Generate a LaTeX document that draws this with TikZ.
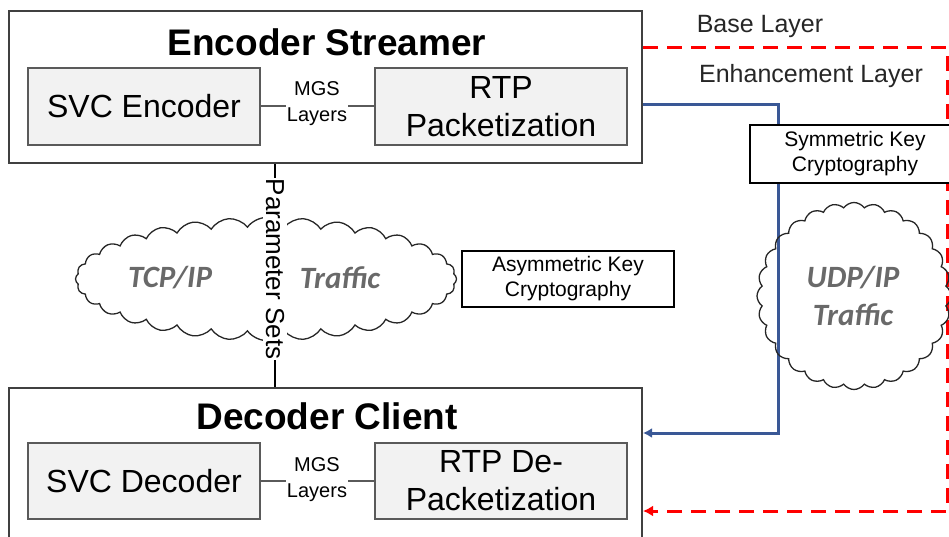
\documentclass[tikz,border=0pt]{standalone}
\usepackage{fontspec}
\setmainfont{Liberation Sans}
\newfontfamily\cloudfont{Carlito}
\usetikzlibrary{shapes.symbols,arrows.meta}
\definecolor{framegray}{RGB}{64,64,64}
\definecolor{innergray}{RGB}{90,90,90}
\definecolor{innerfill}{RGB}{242,242,242}
\definecolor{streamblue}{RGB}{58,88,150}
\definecolor{baseRed}{RGB}{255,0,0}
\definecolor{cloudtext}{RGB}{105,105,105}
\begin{document}
\begin{tikzpicture}[x=1pt,y=-1pt,
  outerbox/.style={draw=framegray, line width=2pt, fill=white, inner sep=0pt},
  innerbox/.style={draw=innergray, line width=2pt, fill=innerfill, inner sep=0pt,
    align=center, font=\fontsize{32}{38}\selectfont},
  titletext/.style={font=\fontsize{37}{40}\selectfont\bfseries, inner sep=0pt},
  mgslabel/.style={fill=white, inner sep=1pt, align=center,
    font=\fontsize{20}{26}\selectfont},
  link/.style={draw=innergray, line width=2pt},
  cryptobox/.style={draw=black, line width=1.5pt, fill=white, inner sep=0pt,
    align=center, font=\fontsize{21}{25}\selectfont},
  layerlabel/.style={inner sep=0pt, font=\fontsize{25}{30}\selectfont, text=black!85},
  enhline/.style={draw=streamblue, line width=3pt},
  baselayer/.style={draw=baseRed, line width=3pt, dash pattern=on 15pt off 9pt},
  netcloud/.style={cloud, draw=black!85, line width=1.3pt, cloud ignores aspect},
  cloudlabel/.style={inner sep=0pt, text=cloudtext,
    font=\fontsize{31}{38}\selectfont\cloudfont\bfseries\itshape, align=center},
]
\useasboundingbox (0,0) rectangle (949,537);

% Encoder side
\node[outerbox, minimum width=633, minimum height=152] (enc) at (325.5,87) {};
\node[titletext] (enct) at (327,42) {Encoder Streamer};
\node[innerbox, minimum width=232, minimum height=77] (svce) at (144,106.5) {SVC Encoder};
\node[innerbox, minimum width=252, minimum height=77] (rtpp) at (501,106.5) {RTP\\Packetization};
\draw[link] (svce.east) -- (rtpp.west);
\node[mgslabel] (mgs1) at (317,104) {MGS\\Layers};

% Decoder side
\node[outerbox, minimum width=633, minimum height=152] (dec) at (325.5,464) {};
\node[titletext] (dect) at (327,416) {Decoder Client};
\node[innerbox, minimum width=232, minimum height=76] (svcd) at (144,481) {SVC Decoder};
\node[innerbox, minimum width=252, minimum height=76] (rtpd) at (501,481) {RTP De-\\Packetization};
\draw[link] (svcd.east) -- (rtpd.west);
\node[mgslabel] (mgs2) at (317,480) {MGS\\Layers};

% Parameter sets over TCP/IP
\node[netcloud, cloud puffs=32, cloud puff arc=110, minimum width=381, minimum height=123] (tcp) at (266,279) {};
\node[cloudlabel] (tcpa) at (170,278) {TCP/IP};
\node[cloudlabel] (tcpb) at (340,278) {Traffic};
\draw[link, line width=1.5pt, draw=black] (enc.south -| 275,0) -- (dec.north -| 275,0);
\node[rotate=-90, fill=white, inner xsep=1pt, inner ysep=3pt, font=\fontsize{26}{30}\selectfont] (params) at (275,269) {Parameter Sets};
\node[cryptobox, minimum width=212, minimum height=56] (asym) at (568,279) {Asymmetric Key\\Cryptography};

% Layer streams
\coordinate (b1) at (778,105);
\coordinate (b2) at (778,433);
\coordinate (r1) at (947,48);
\coordinate (r2) at (947,511);
\draw[enhline, -{Latex[length=9pt, width=10pt]}] (enc.east |- b1) -- (b1) -- (b2) -- (dec.east |- b2);
\draw[baselayer, -{Latex[length=10pt, width=11pt]}] (enc.east |- r1) -- (r1) -- (r2) -- (dec.east |- r2);
\node[layerlabel] (base) at (760,26) {Base Layer};
\node[layerlabel] (enh) at (811,76) {Enhancement Layer};
\node[cryptobox, minimum width=210, minimum height=58] (sym) at (855,154) {Symmetric Key\\Cryptography};

% UDP/IP cloud
\node[netcloud, cloud puffs=28, cloud puff arc=110, minimum width=194, minimum height=187] (udp) at (854,296) {};
\node[cloudlabel] (udpt) at (853,296) {UDP/IP\\Traffic};
\end{tikzpicture}
\end{document}
